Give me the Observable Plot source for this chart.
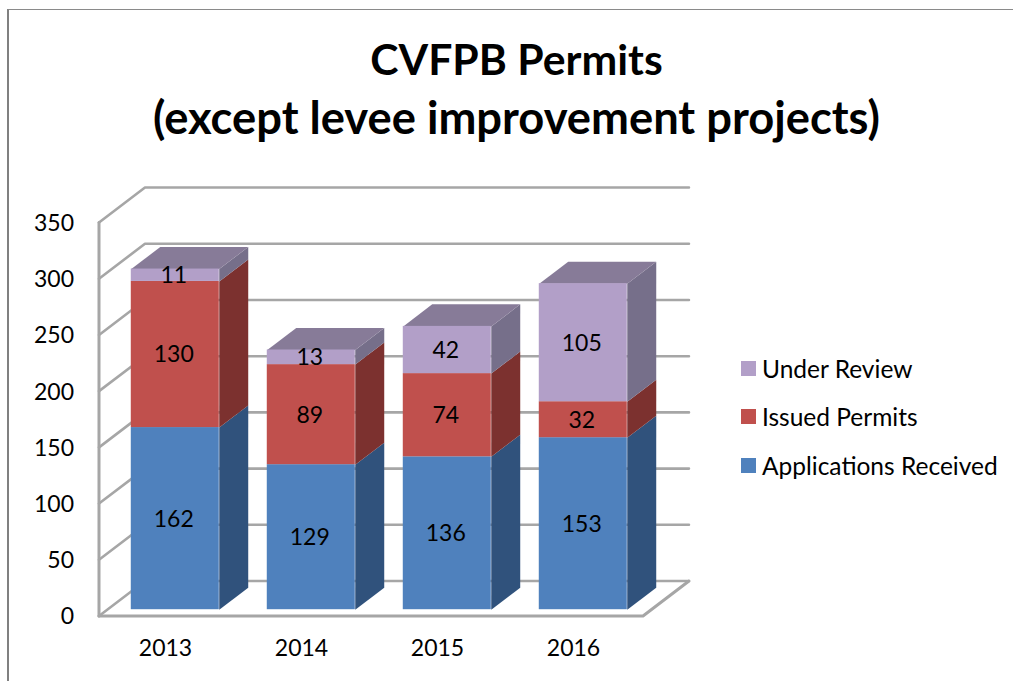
<!DOCTYPE html>
<html><head><meta charset="utf-8">
<script src="https://cdn.jsdelivr.net/npm/d3@7"></script>
<script src="https://cdn.jsdelivr.net/npm/@observablehq/plot@0.6"></script>
<style>
html,body{margin:0;padding:0;background:#fff;width:1013px;height:681px;overflow:hidden}
body{position:relative;font-family:Lato,sans-serif;color:#000}
#frame{position:absolute;left:7px;top:9px;right:0;bottom:0;border-left:2.5px solid #808080;border-top:1.5px solid #8a8a8a;pointer-events:none}
#title{position:absolute;left:0;top:0;width:1033px;height:170px;text-align:center;font-weight:700;line-height:58px;padding-top:30px;box-sizing:border-box}
#title .a{font-size:42.7px}
#title .b{font-size:45.3px}
#chart{position:absolute;left:0;top:170px}
#legend{position:absolute;left:741px;top:344px;font-size:24.5px}
.row{display:flex;align-items:center;height:48.5px;white-space:nowrap}
.sw{width:15px;height:15px;margin-right:6px;flex:none}
</style></head><body>
<div id="frame"></div>
<div id="title"><div class="a">CVFPB Permits</div><div class="b">(except levee improvement projects)</div></div>
<div id="chart"></div>
<div id="legend"></div>
<script>
const years = ["2013", "2014", "2015", "2016"];
const applications = [162, 129, 136, 153];
const issued = [130, 89, 74, 32];
const review = [11, 13, 42, 105];
const seriesNames = ["Applications Received", "Issued Permits", "Under Review"];
const frontColors = ["#4f81bd", "#c0504d", "#b29fc8"];
const sideColors = ["#30527c", "#7c312f", "#766f8a"];
const topColor = "#877b98";
const yTicks = [0, 50, 100, 150, 200, 250, 300, 350];
const gridColor = "#a6a6a6";

// oblique projection of the 3-D box: depth 0 = front of the floor, depth 1 = back wall
const depthX = 0.338, depthY = 31.1, barHalf = 0.3235;
const barNear = 0.18, barFar = 0.81;
const P = (x, y, d) => ({x: x + d * depthX, y: y + d * depthY});

const series = [applications, issued, review];
const fronts = [], faces = [], labels = [];
years.forEach((yr, i) => {
  const c = i + 0.5;
  let base = 0;
  series.forEach((vals, s) => {
    const v = vals[i], top = base + v;
    const a = P(c - barHalf, base, barNear), b = P(c + barHalf, top, barNear);
    fronts.push({x1: a.x, x2: b.x, y1: a.y, y2: b.y, fill: frontColors[s]});
    labels.push({x: (a.x + b.x) / 2, y: (a.y + b.y) / 2, text: String(v)});
    [P(c + barHalf, base, barNear), P(c + barHalf, base, barFar), P(c + barHalf, top, barFar), P(c + barHalf, top, barNear)]
      .forEach(p => faces.push({...p, id: `side-${i}-${s}`, fill: sideColors[s]}));
    base = top;
  });
  [P(c - barHalf, base, barNear), P(c - barHalf, base, barFar), P(c + barHalf, base, barFar), P(c + barHalf, base, barNear)]
    .forEach(p => faces.push({...p, id: `top-${i}`, fill: topColor}));
});

const n = years.length;
const wall = yTicks.flatMap(t => [
  {id: `w${t}`, ...P(0, t, 0)}, {id: `w${t}`, ...P(0, t, 1)}, {id: `w${t}`, ...P(n, t, 1)}
]);
const edges = [
  {id: "left", x: 0, y: 0}, {id: "left", x: 0, y: 350},
  {id: "floor", x: 0, y: 0}, {id: "floor", x: n, y: 0}, {id: "floor", ...P(n, 0, 1)}
];

const plot = Plot.plot({
  width: 1013, height: 511,
  marginTop: 52, marginBottom: 65.5, marginLeft: 98.5, marginRight: 370.5,
  x: {domain: [0, n], axis: null},
  y: {domain: [0, 350], axis: null},
  color: {type: "identity"},
  style: {fontFamily: "Lato, sans-serif", fontSize: "23px", color: "#000", background: "transparent"},
  marks: [
    Plot.line(wall, {x: "x", y: "y", z: "id", stroke: gridColor, strokeWidth: 2.6, curve: "linear"}),
    Plot.line(edges, {x: "x", y: "y", z: "id", stroke: gridColor, strokeWidth: 3, curve: "linear"}),
    Plot.line(faces, {x: "x", y: "y", z: "id", fill: "fill", stroke: "none", curve: "linear"}),
    Plot.rect(fronts, {x1: "x1", x2: "x2", y1: "y1", y2: "y2", fill: "fill"}),
    Plot.text(labels, {x: "x", y: "y", text: "text", fill: "#000", dx: -1.5, dy: 0.5, fontSize: 23}),
    Plot.axisY({ticks: yTicks, tickSize: 0, tickPadding: 25, label: null, fontSize: 23, dy: 1}),
    Plot.text(years, {x: (d, i) => i + 0.5, y: () => 0, text: d => d, dy: 33, dx: -1.5, fill: "#000", fontSize: 23})
  ]
});
document.getElementById("chart").append(plot);

const legend = document.getElementById("legend");
[2, 1, 0].forEach(s => {
  const row = document.createElement("div"); row.className = "row";
  const sw = document.createElement("span"); sw.className = "sw"; sw.style.background = frontColors[s];
  const t = document.createElement("span"); t.textContent = seriesNames[s];
  row.append(sw, t); legend.append(row);
});
</script>
</body></html>
